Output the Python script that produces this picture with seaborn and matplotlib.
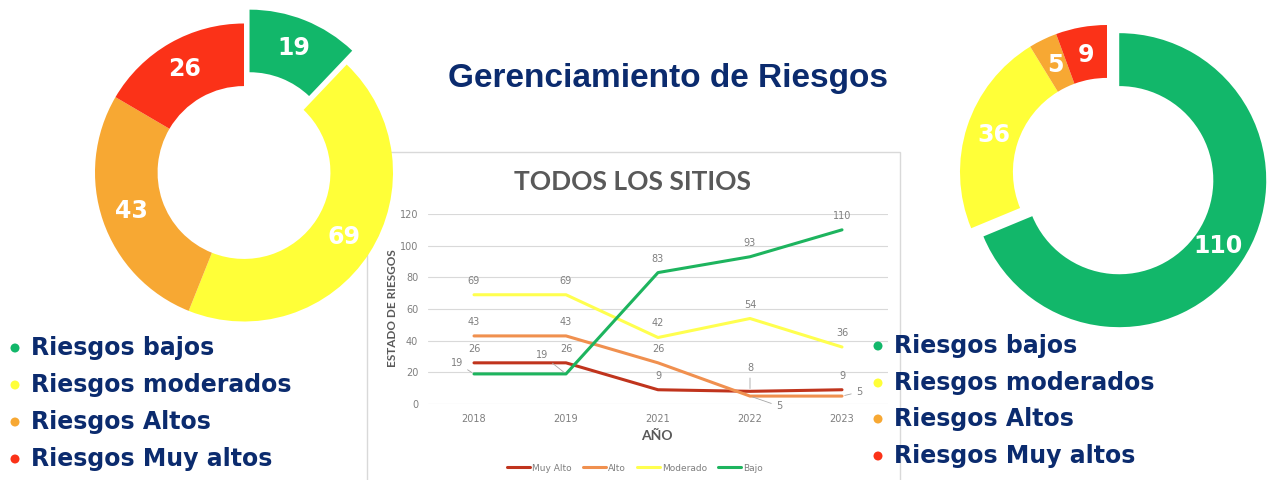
import numpy as np
import pandas as pd
import matplotlib
matplotlib.use("Agg")
import matplotlib.pyplot as plt
import seaborn as sns
from matplotlib.patches import Rectangle

# --- Data ---
years = ["2018", "2019", "2021", "2022", "2023"]
muy_alto = [26, 26, 9, 8, 9]
alto = [43, 43, 26, 5, 5]
moderado = [69, 69, 42, 54, 36]
bajo = [19, 19, 83, 93, 110]
series_names = ["Muy Alto", "Alto", "Moderado", "Bajo"]

# donuts: bajos, moderados, altos, muy altos
donut_labels = ["Riesgos bajos", "Riesgos moderados", "Riesgos Altos", "Riesgos Muy altos"]
donut_before = [19, 69, 43, 26]
donut_after = [110, 36, 5, 9]

# --- Colours ---
line_colors = {"Muy Alto": "#C0341D", "Alto": "#F0904F", "Moderado": "#FFFF4F", "Bajo": "#1DB45E"}
donut_colors = ["#12B76A", "#FFFF38", "#F7A833", "#FB3218"]
navy = "#0B2B6E"
gray_txt = "#7F7F7F"
dark_gray = "#595959"

W, H = 1267, 480
sns.set_theme(style="white")
plt.rcParams["font.family"] = ["DejaVu Sans"]

fig = plt.figure(figsize=(W / 100, H / 100), dpi=100)


def px_box(x0, y0, w, h):
    # pixel box (top-left origin) -> figure fraction
    return [x0 / W, 1 - (y0 + h) / H, w / W, h / H]


# panel behind the line chart
fig.add_artist(Rectangle((367 / W, 1 - 482 / H), (900 - 367) / W, (482 - 152) / H,
                         transform=fig.transFigure, facecolor="white",
                         edgecolor="#D9D9D9", lw=1, zorder=-1))

# --- Line chart ---
df = pd.DataFrame({
    "Año": years * 4,
    "Serie": np.repeat(series_names, len(years)),
    "Valor": muy_alto + alto + moderado + bajo,
})

ax = fig.add_axes(px_box(428, 214, 460, 190))
ax.set_facecolor("none")
sns.lineplot(data=df, x="Año", y="Valor", hue="Serie", hue_order=series_names,
             palette=line_colors, linewidth=2.2, sort=False, ax=ax)

ax.set_xlim(-0.5, 4.5)
ax.set_ylim(0, 120)
ax.set_yticks(range(0, 121, 20))
ax.grid(axis="y", color="#D9D9D9", lw=0.8)
ax.grid(axis="x", visible=False)
sns.despine(ax=ax, left=True, bottom=True)
ax.tick_params(axis="both", length=0, labelsize=7, labelcolor=gray_txt)
ax.tick_params(axis="y", pad=7)
ax.tick_params(axis="x", pad=7)

# data labels (some with leader lines)
series_vals = {"Muy Alto": muy_alto, "Alto": alto, "Moderado": moderado, "Bajo": bajo}
special = {("Bajo", 0): (-17, 11), ("Bajo", 1): (-24, 19), ("Muy Alto", 3): (0, 23),
           ("Alto", 3): (29, -10), ("Alto", 4): (17, 4)}
for name in series_names:
    for i, v in enumerate(series_vals[name]):
        dx, dy = special.get((name, i), (0, 14))
        arrow = None
        if (name, i) in special:
            arrow = dict(arrowstyle="-", color="#A6A6A6", lw=0.6, shrinkA=1, shrinkB=2)
        ax.annotate(str(v), (i, v), xytext=(dx, dy), textcoords="offset pixels",
                    ha="center", va="center", fontsize=7, color=gray_txt,
                    arrowprops=arrow, annotation_clip=False)

ax.set_xlabel("AÑO", fontsize=10, fontweight="bold", color=dark_gray, family="Lato")
ax.xaxis.set_label_coords(0.498, -0.168)
ax.xaxis.label.set_va("center")
ax.set_ylabel("ESTADO DE RIESGOS", fontsize=8.5, fontweight="bold", color=dark_gray, family="Lato")
ax.yaxis.set_label_coords(-0.078, 0.505)
ax.yaxis.label.set_va("center")

sns.move_legend(ax, "center", bbox_to_anchor=(0.45, -0.337), ncol=4, frameon=False,
                title=None, fontsize=6.5, handlelength=2.6, handletextpad=0.2,
                columnspacing=1.2, labelcolor=gray_txt)

fig.text(633 / W, 1 - 182 / H, "TODOS LOS SITIOS", ha="center", va="center",
         fontsize=19, fontweight="bold", color=dark_gray, family="Lato")


# --- Donuts ---
def donut(cx, cy, r, values, explode, width, pctd):
    half = 165
    a = fig.add_axes(px_box(cx - half, cy - half, 2 * half, 2 * half))
    total = sum(values)
    a.pie(values, colors=donut_colors, startangle=90, counterclock=False,
          explode=explode, wedgeprops=dict(width=width, edgecolor="none"),
          autopct=lambda p: f"{p * total / 100:.0f}", pctdistance=pctd,
          textprops=dict(color="white", fontweight="bold", fontsize=17))
    a.set_xlim(-half / r, half / r)
    a.set_ylim(-half / r, half / r)
    return a


donut(244, 172.5, 149, donut_before, [0.1, 0, 0, 0], 0.42, 0.8)
donut(1107, 172, 147, donut_after, [0.1, 0, 0, 0], 0.36, 0.81)

# --- Title ---
fig.text(668 / W, 1 - 79 / H, "Gerenciamiento de Riesgos", ha="center", va="center",
         fontsize=24, fontweight="bold", color=navy, family="Liberation Sans")

# --- Side legends ---
ov = fig.add_axes([0, 0, 1, 1], zorder=10)
ov.set_xlim(0, W)
ov.set_ylim(H, 0)
ov.axis("off")
left_rows = [348, 385, 422, 459]
right_rows = [346, 383, 419, 456]
ov.scatter([15] * 4, left_rows, s=42, c=donut_colors, linewidths=0)
ov.scatter([878] * 4, right_rows, s=42, c=donut_colors, linewidths=0)
for lbl, yl, yr in zip(donut_labels, left_rows, right_rows):
    ov.text(31, yl, lbl, ha="left", va="center", fontsize=17, fontweight="bold", color=navy)
    ov.text(894, yr, lbl, ha="left", va="center", fontsize=17, fontweight="bold", color=navy)

fig.savefig("out.png", dpi=100)
